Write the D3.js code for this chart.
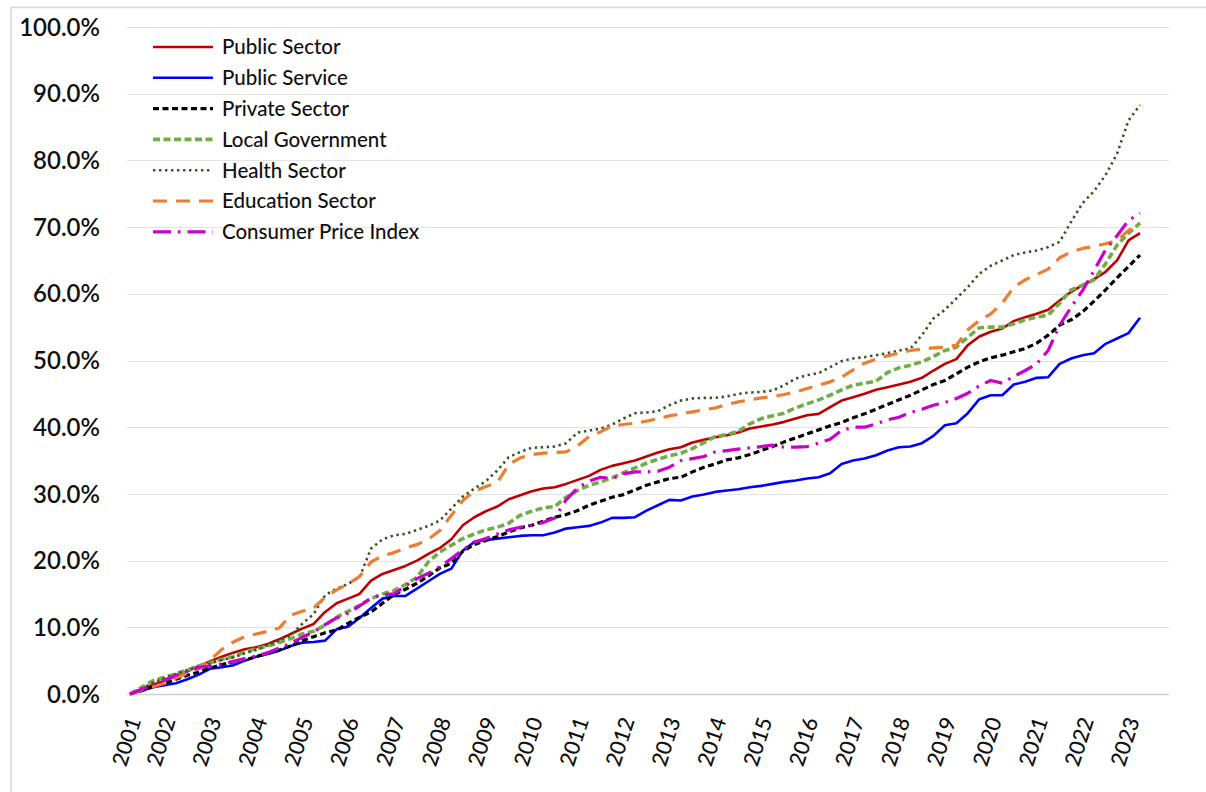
<!DOCTYPE html>
<html>
<head>
<meta charset="utf-8">
<script src="https://cdn.jsdelivr.net/npm/d3@7"></script>
<style>
  html, body { margin: 0; padding: 0; background: #fff; }
  svg { display: block; }
</style>
</head>
<body>
<svg id="chart" width="1206" height="792"></svg>
<script>
// ---------- DATA (cumulative % change since 2001, quarterly) ----------
const yearLabels = ["2001","2002","2003","2004","2005","2006","2007","2008","2009","2010","2011","2012","2013","2014","2015","2016","2017","2018","2019","2020","2021","2022","2023"];
// index of the quarter at which each year label sits
const yearTickIndex = [0,3,7,11,15,19,23,27,31,35,39,43,47,51,55,59,63,67,71,75,79,83,87];
const yTicks = [0,10,20,30,40,50,60,70,80,90,100];

const publicSector = [0,0.7,1.4,2.0,2.7,3.4,4.2,4.9,5.6,6.2,6.7,7.0,7.5,8.2,9.0,9.8,10.5,12.3,13.6,14.3,15.0,17.0,18.0,18.6,19.2,20.0,21.0,21.9,23.2,25.3,26.5,27.4,28.1,29.2,29.8,30.4,30.8,31.0,31.5,32.1,32.7,33.6,34.2,34.6,35.0,35.6,36.2,36.7,37.0,37.7,38.1,38.5,38.8,39.2,39.8,40.1,40.4,40.8,41.3,41.8,42.0,43.0,44.0,44.5,45.0,45.6,46.0,46.4,46.8,47.4,48.5,49.5,50.2,52.3,53.6,54.3,54.8,55.9,56.5,57.0,57.6,59.0,60.3,61.3,62.2,63.3,65.0,68.0,69.1];
const publicService = [0,0.5,1.0,1.3,1.6,2.2,2.9,3.8,4.0,4.3,5.0,5.6,6.0,6.5,7.2,7.7,7.8,8.0,9.7,10.1,11.4,12.9,14.3,14.7,14.7,15.8,16.9,18.0,18.8,21.5,22.8,23.1,23.3,23.5,23.7,23.8,23.8,24.2,24.8,25.0,25.2,25.7,26.4,26.4,26.5,27.5,28.3,29.1,29.0,29.6,29.9,30.3,30.5,30.7,31.0,31.2,31.5,31.8,32.0,32.3,32.5,33.1,34.5,35.0,35.3,35.8,36.5,37.0,37.1,37.6,38.7,40.3,40.6,42.1,44.2,44.8,44.8,46.4,46.8,47.4,47.5,49.5,50.3,50.8,51.1,52.5,53.3,54.1,56.4];
const privateSector = [0,0.5,1.1,1.6,2.2,2.8,3.3,3.9,4.4,4.8,5.1,5.6,6.1,6.6,7.2,8.0,8.6,9.2,9.6,10.6,11.5,12.3,13.6,14.9,15.7,16.6,17.7,18.9,19.6,21.4,22.4,23.0,23.6,24.3,24.9,25.3,25.9,26.5,26.9,27.5,28.3,28.9,29.5,29.9,30.6,31.3,31.8,32.3,32.5,33.3,34.0,34.5,35.1,35.4,35.9,36.5,37.1,37.8,38.4,39.0,39.6,40.2,40.7,41.4,42.0,42.7,43.4,44.1,44.8,45.6,46.4,47.0,48.0,49.0,49.8,50.4,50.8,51.3,51.8,52.6,53.8,55.3,56.1,57.3,58.9,60.6,62.4,64.1,65.8];
const localGovernment = [0,1.0,2.0,2.5,3.0,3.6,4.2,4.7,5.2,5.6,6.3,6.8,7.2,7.7,8.3,9.0,9.4,10.3,11.5,12.4,13.3,14.3,15.0,15.5,16.4,17.5,19.8,21.3,22.3,23.3,24.0,24.6,25.0,25.6,26.8,27.4,27.9,28.1,29.5,30.5,31.3,31.8,32.4,33.2,33.9,34.6,35.2,35.7,36.1,36.8,37.7,38.6,38.9,39.4,40.5,41.3,41.7,42.1,42.9,43.5,44.1,44.8,45.6,46.3,46.6,46.9,48.2,48.9,49.3,49.8,50.6,51.5,52.0,53.5,54.9,55.0,55.0,55.5,56.1,56.5,56.8,58.6,60.6,61.3,62.1,64.5,67.3,69.1,70.6];
const healthSector = [0,0.8,1.7,2.4,3.0,3.6,4.1,4.6,5.1,5.5,6.1,6.6,7.3,8.0,8.8,10.5,12.0,14.8,15.8,16.5,17.5,21.8,23.2,23.8,24.0,24.6,25.2,26.0,27.8,29.6,30.8,31.9,33.5,35.5,36.3,36.9,37.0,37.1,37.6,39.2,39.5,39.8,40.4,41.3,42.1,42.2,42.4,43.3,44.0,44.3,44.4,44.4,44.6,45.0,45.2,45.3,45.5,46.3,47.3,47.8,48.1,49.0,49.9,50.3,50.5,50.8,51.1,51.5,51.8,53.8,56.3,57.6,59.3,61.0,63.0,64.2,65.0,65.8,66.2,66.5,67.0,67.8,70.8,73.6,75.4,77.8,81.0,86.0,88.3];
const educationSector = [0,0.6,1.1,1.6,2.4,3.1,3.8,5.1,6.7,7.8,8.6,9.0,9.4,9.9,11.8,12.4,12.9,14.5,15.6,16.5,17.6,19.8,20.7,21.2,21.9,22.4,23.2,24.5,26.8,29.0,30.4,31.1,31.7,34.4,35.4,35.9,36.1,36.2,36.3,37.2,38.6,39.3,40.2,40.4,40.6,40.9,41.3,41.7,42.0,42.3,42.6,42.9,43.4,43.8,44.1,44.4,44.6,44.9,45.3,45.8,46.3,46.8,47.5,48.6,49.6,50.2,50.7,51.1,51.5,51.7,51.9,52.0,52.3,54.6,56.0,57.0,58.6,61.0,62.1,62.9,63.7,65.4,66.3,66.8,67.1,67.5,68.0,69.5,70.6];
const consumerPriceIndex = [0,0.7,1.4,2.1,2.8,3.4,4.0,4.2,4.5,4.9,5.3,5.7,6.2,6.9,7.6,8.5,9.3,10.4,11.4,12.1,13.2,14.4,14.9,15.0,16.2,17.3,18.1,19.1,20.3,21.6,22.8,23.3,24.0,24.6,25.0,25.3,25.7,26.4,29.1,30.9,31.9,32.5,32.3,33.0,33.3,33.3,33.4,34.0,35.0,35.3,35.6,36.3,36.5,36.7,36.9,37.1,37.3,37.0,37.0,37.1,37.6,38.2,39.5,40.0,40.0,40.5,41.1,41.5,42.2,42.7,43.3,43.7,44.3,45.1,46.2,47.0,46.6,47.6,48.5,49.5,51.5,55.3,58.0,60.5,63.5,66.6,68.7,71.0,72.1];

const seriesNames = ["Public Sector","Public Service","Private Sector","Local Government","Health Sector","Education Sector","Consumer Price Index"];
const seriesValues = [publicSector, publicService, privateSector, localGovernment, healthSector, educationSector, consumerPriceIndex];

// ---------- STYLES ----------
const styles = [
  {color:"#C00000", width:2.6, dash:null},
  {color:"#0000FF", width:2.6, dash:null},
  {color:"#000000", width:3.2, dash:"6,3.5"},
  {color:"#70AD47", width:3.6, dash:"7,3.5"},
  {color:"#375623", width:2.6, dash:"2.4,3.6"},
  {color:"#ED7D31", width:3.2, dash:"14,9"},
  {color:"#CC00CC", width:3.2, dash:"18,7,2.5,7"}
];

const svg = d3.select("#chart");
const FONT = "Lato, 'Open Sans', sans-serif";

// outer frame (top and left edges visible)
svg.append("line").attr("x1",10).attr("x2",1206).attr("y1",7.5).attr("y2",7.5).attr("stroke","#d9d9d9").attr("stroke-width",1.5);
svg.append("line").attr("x1",11).attr("x2",11).attr("y1",7).attr("y2",792).attr("stroke","#d9d9d9").attr("stroke-width",1.5);

const nPts = publicSector.length;
const x = d3.scaleLinear().domain([0, nPts - 1]).range([130, 1140]);
const y = d3.scaleLinear().domain([0, 100]).range([694, 27]);
const gridX0 = 127, gridX1 = 1169;

// gridlines
svg.append("g").selectAll("line").data(yTicks).join("line")
  .attr("x1", gridX0).attr("x2", gridX1)
  .attr("y1", d => Math.round(y(d)) + 0.5).attr("y2", d => Math.round(y(d)) + 0.5)
  .attr("stroke", d => d === 0 ? "#cfcfcf" : "#e3e3e3").attr("stroke-width", d => d === 0 ? 1.5 : 1.2);

// y labels
svg.append("g").selectAll("text").data(yTicks).join("text")
  .attr("x", 100).attr("y", d => y(d))
  .attr("dy", "0.36em")
  .attr("text-anchor", "end")
  .attr("font-family", FONT).attr("font-size", 24).attr("font-weight", 600).attr("fill", "#111")
  .text(d => d.toFixed(1) + "%");

// x labels
svg.append("g").selectAll("text").data(yearLabels).join("text")
  .attr("transform", (d, i) => `translate(${x(yearTickIndex[i]) + 4},${718}) rotate(-72)`)
  .attr("dy", "0.36em")
  .attr("text-anchor", "end")
  .attr("font-family", FONT).attr("font-size", 21.5).attr("font-weight", 500).attr("fill", "#111")
  .text(d => d);

// lines
const line = d3.line().x((d, i) => x(i)).y(d => y(d)).curve(d3.curveLinear);
const g = svg.append("g");
seriesValues.forEach((vals, k) => {
  const s = styles[k];
  g.append("path").datum(vals)
    .attr("d", line)
    .attr("fill", "none")
    .attr("stroke", s.color)
    .attr("stroke-width", s.width)
    .attr("stroke-dasharray", s.dash)
    .attr("stroke-linejoin", "round");
});

// legend
const legY0 = 47, legDY = 30.8;
const leg = svg.append("g");
seriesNames.forEach((name, k) => {
  const s = styles[k];
  const yy = legY0 + k * legDY;
  leg.append("line").attr("x1", 153).attr("x2", 213).attr("y1", yy).attr("y2", yy)
    .attr("stroke", s.color).attr("stroke-width", s.width)
    .attr("stroke-dasharray", s.dash);
  leg.append("text").attr("x", 222).attr("y", yy).attr("dy", "0.36em")
    .attr("font-family", FONT).attr("font-size", 20.5).attr("font-weight", 500).attr("fill", "#111")
    .text(name);
});
</script>
</body>
</html>
